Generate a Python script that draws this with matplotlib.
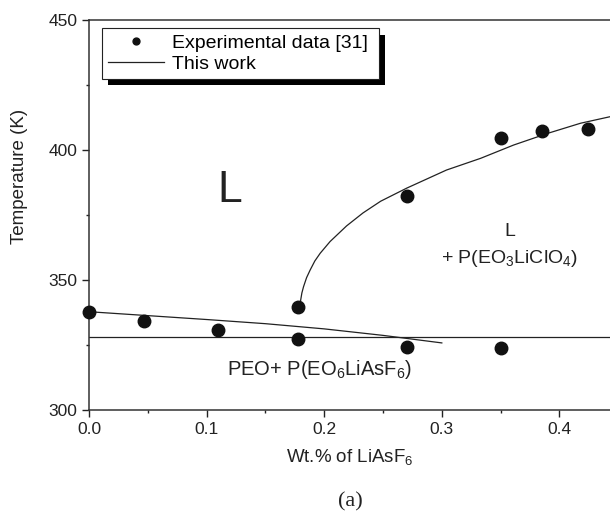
import matplotlib
matplotlib.use("Agg")
import matplotlib.pyplot as plt
from matplotlib.patches import Rectangle
from matplotlib.ticker import MultipleLocator, FormatStrFormatter

plt.rcParams['font.family'] = ['Liberation Sans', 'DejaVu Sans']
plt.rcParams['mathtext.fontset'] = 'custom'
plt.rcParams['mathtext.rm'] = 'Liberation Sans'
plt.rcParams['mathtext.it'] = 'Liberation Sans'
plt.rcParams['mathtext.default'] = 'regular'

# experimental points (Wt. fraction LiAsF6, T in K)
exp_x = [0.0, 0.047, 0.110, 0.178, 0.178, 0.270, 0.350, 0.270, 0.350, 0.385, 0.424]
exp_t = [337.8, 334.2, 330.6, 339.7, 327.3, 324.4, 323.7, 382.3, 404.5, 407.2, 408.1]

# model curves ("This work")
liq_x = [0.1796, 0.1800, 0.1810, 0.1824, 0.1850, 0.1880, 0.1920, 0.1966, 0.205, 0.219,
         0.233, 0.248, 0.270, 0.304, 0.333, 0.361, 0.390, 0.418, 0.443]
liq_t = [339.7, 342.3, 345.0, 347.4, 350.9, 353.8, 357.3, 360.3, 364.8, 370.8,
         375.8, 380.3, 385.3, 392.3, 396.8, 401.9, 406.4, 410.3, 412.8]

peo_x = [0.0, 0.05, 0.10, 0.15, 0.20, 0.25, 0.30]
peo_t = [337.8, 336.3, 334.8, 333.2, 331.2, 328.7, 325.8]

eut_x = [0.0, 0.443]
eut_t = [328.0, 328.0]

fig = plt.figure(figsize=(6.10, 5.16), dpi=100)
ax = fig.add_axes([89 / 610, 1 - 410 / 516, 521 / 610, 390 / 516])

ax.plot(exp_x, exp_t, 'o', color='#111111', markersize=9, label='Experimental data [31] ',
        clip_on=False, zorder=4)
ax.plot(liq_x, liq_t, '-', color='#222222', lw=0.9, label='This work')
ax.plot(peo_x, peo_t, '-', color='#222222', lw=0.9)
ax.plot(eut_x, eut_t, '-', color='#222222', lw=0.9)

ax.set_xlim(0.0, 0.443)
ax.set_ylim(300, 450)
ax.xaxis.set_major_locator(MultipleLocator(0.1))
ax.xaxis.set_minor_locator(MultipleLocator(0.05))
ax.yaxis.set_major_locator(MultipleLocator(50))
ax.yaxis.set_minor_locator(MultipleLocator(25))
ax.xaxis.set_major_formatter(FormatStrFormatter('%.1f'))
ax.tick_params(which='major', direction='out', length=5, width=1.0, labelsize=12.5, colors='#222222')
ax.tick_params(which='minor', direction='out', length=2.5, width=1.0, colors='#222222')
ax.spines['right'].set_visible(False)
for s in ['left', 'bottom', 'top']:
    ax.spines[s].set_linewidth(1.1)
    ax.spines[s].set_color('#333333')

ax.set_xlabel('Wt.% of LiAsF$_6$', fontsize=13.5, color='#222222')
ax.set_ylabel('Temperature (K)', fontsize=13.5, color='#222222')
ax.xaxis.set_label_coords(0.5, -0.095)
ax.yaxis.set_label_coords(-0.117, 0.6)

ax.text(0.1196, 384.6, 'L', fontsize=32, ha='center', va='center', color='#222222')
ax.text(0.358, 368.5, 'L', fontsize=14, ha='center', va='center', color='#222222')
ax.text(0.358, 358.3, '+ P(EO$_3$LiClO$_4$)', fontsize=14, ha='center', va='center', color='#222222')
ax.text(0.196, 315.4, 'PEO+ P(EO$_6$LiAsF$_6$)', fontsize=14.5, ha='center', va='center', color='#222222')
fig.text(350 / 610, 1 - 502 / 516, '(a)', fontsize=16, ha='center', va='center',
         family='Liberation Serif', color='#222222')

leg = ax.legend(loc='upper left', bbox_to_anchor=(0.0244, 0.979), borderaxespad=0,
                fontsize=14, frameon=True, fancybox=False, framealpha=1, markerscale=0.55,
                handlelength=2.9, handletextpad=0.4, labelspacing=0.2, borderpad=0.3)
leg.get_frame().set_edgecolor('#222222')
leg.get_frame().set_linewidth(0.8)

# solid black drop shadow behind the legend box
fig.canvas.draw()
bb = leg.get_window_extent().transformed(ax.transAxes.inverted())
dx, dy = 6 / 521, -6.5 / 390
ax.add_patch(Rectangle((bb.x0 + dx, bb.y0 + dy), bb.width, bb.height, transform=ax.transAxes,
                       facecolor='black', edgecolor='none', zorder=4.9, clip_on=False))

fig.savefig('out.png', dpi=100)
